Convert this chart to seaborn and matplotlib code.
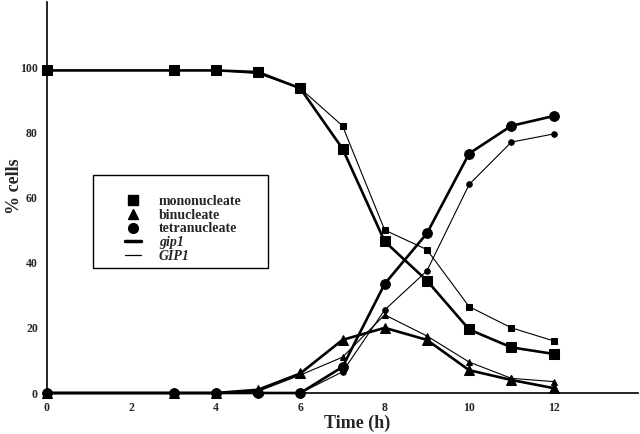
import pandas as pd
import matplotlib
matplotlib.use("Agg")
import matplotlib.pyplot as plt
from matplotlib.lines import Line2D
from matplotlib.patches import Rectangle
import seaborn as sns

# data
times = [0, 3, 4, 5, 6, 7, 8, 9, 10, 11, 12]
gip1_mono = [99, 99, 99, 98.5, 93.5, 75, 46.5, 34.5, 19.5, 14, 12]
GIP1_mono = [99, 99, 99, 98, 93.5, 82, 50, 44, 26.5, 20, 16]
gip1_bi = [0, 0, 0, 1, 6, 16.3, 20, 16.3, 7, 4, 1.5]
GIP1_bi = [0, 0, 0, 0.5, 5.5, 11, 24, 17.5, 9.5, 4.5, 3.5]
gip1_tetra = [0, 0, 0, 0, 0, 8, 33.5, 49, 73.5, 82, 85]
GIP1_tetra = [0, 0, 0, 0, 0, 6.5, 25.5, 37.5, 64, 77, 79.5]

stages = ["mononucleate", "binucleate", "tetranucleate"]
strains = ["gip1", "GIP1"]

rows = []
for strain, series in [("gip1", [gip1_mono, gip1_bi, gip1_tetra]),
                       ("GIP1", [GIP1_mono, GIP1_bi, GIP1_tetra])]:
    for stage, vals in zip(stages, series):
        for t, v in zip(times, vals):
            rows.append({"time": t, "pct": v, "stage": stage, "strain": strain})
df = pd.DataFrame(rows)

sns.set_style("white")
plt.rcParams["font.family"] = ["Liberation Serif", "DejaVu Serif"]
plt.rcParams["font.weight"] = "bold"

fig = plt.figure(figsize=(6.4, 4.34), dpi=100)
ax = fig.add_axes([47 / 640, 41 / 434, 591 / 640, 391 / 434])

markers = {"mononucleate": "s", "binucleate": "^", "tetranucleate": "o"}

# thin lines first (GIP1), thick (gip1) on top
sns.lineplot(data=df[df["strain"] == "GIP1"], x="time", y="pct", style="stage",
             markers=markers, dashes=False, color="k", linewidth=0.8,
             markersize=4, markeredgecolor="k", errorbar=None, legend=False,
             clip_on=False, ax=ax)
sns.lineplot(data=df[df["strain"] == "gip1"], x="time", y="pct", style="stage",
             markers=markers, dashes=False, color="k", linewidth=1.9,
             markersize=7, markeredgecolor="k", errorbar=None, legend=False,
             clip_on=False, ax=ax)

ax.set_xlim(0, 14)
ax.set_ylim(0, 120)
ax.set_xticks([0, 2, 4, 6, 8, 10, 12])
ax.set_yticks([0, 20, 40, 60, 80, 100])
ax.tick_params(length=0, labelsize=8.5, pad=6.5)
for lab in ax.get_xticklabels() + ax.get_yticklabels():
    lab.set_fontweight("bold")
ax.set_xlabel("Time (h)", fontsize=13, fontweight="bold")
ax.set_ylabel("% cells", fontsize=13, fontweight="bold")
ax.xaxis.set_label_coords(0.525, -0.056)
ax.yaxis.set_label_coords(-0.041, 0.53)
sns.despine(ax=ax)
for side in ["left", "bottom"]:
    ax.spines[side].set_color("k")
    ax.spines[side].set_linewidth(1.2)

# legend
handles = [
    Line2D([], [], marker="s", ls="none", color="k", markersize=7),
    Line2D([], [], marker="^", ls="none", color="k", markersize=7),
    Line2D([], [], marker="o", ls="none", color="k", markersize=7),
    Line2D([], [], color="k", linewidth=2.5),
    Line2D([], [], color="k", linewidth=0.9),
]
labels = stages + strains
leg = ax.legend(handles, labels, loc="upper left",
                bbox_to_anchor=(125 / 640, 1 - 195 / 434),
                bbox_transform=fig.transFigure, frameon=False, borderpad=0,
                borderaxespad=0, handlelength=1.15, handletextpad=1.3,
                labelspacing=0.05, prop={"size": 10, "weight": "bold"})
for txt in leg.get_texts()[3:]:
    txt.set_fontstyle("italic")
ax.add_patch(Rectangle((93 / 640, 1 - 268 / 434), 175 / 640, 93 / 434,
                       transform=fig.transFigure, fill=False, lw=1, color="k"))

fig.savefig("out.png", dpi=100)
